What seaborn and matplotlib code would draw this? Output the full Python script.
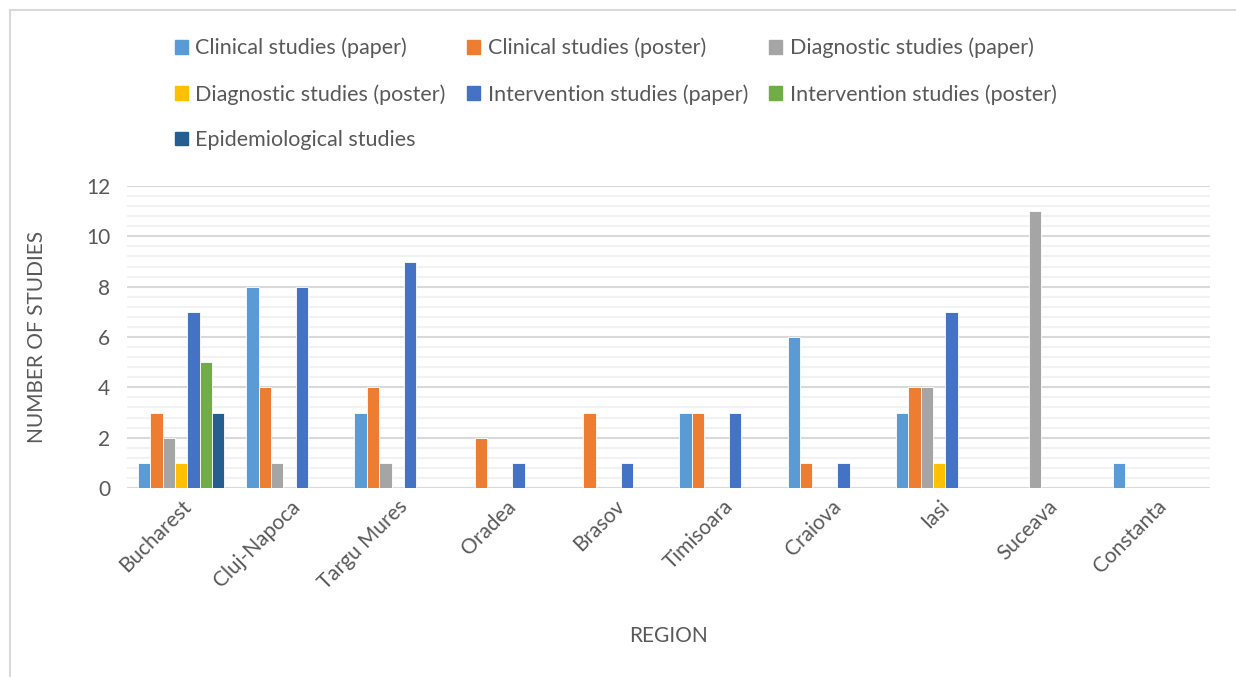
import pandas as pd
import numpy as np
import matplotlib.pyplot as plt
import matplotlib.patches as mpatches
from matplotlib.ticker import MultipleLocator
import seaborn as sns

regions = ['Bucharest', 'Cluj-Napoca', 'Targu Mures', 'Oradea', 'Brasov',
           'Timisoara', 'Craiova', 'Iasi', 'Suceava', 'Constanta']
series = ['Clinical studies (paper)', 'Clinical studies (poster)',
          'Diagnostic studies (paper)', 'Diagnostic studies (poster)',
          'Intervention studies (paper)', 'Intervention studies (poster)',
          'Epidemiological studies']

clinical_paper = [1, 8, 3, 0, 0, 3, 6, 3, 0, 1]
clinical_poster = [3, 4, 4, 2, 3, 3, 1, 4, 0, 0]
diagnostic_paper = [2, 1, 1, 0, 0, 0, 0, 4, 11, 0]
diagnostic_poster = [1, 0, 0, 0, 0, 0, 0, 1, 0, 0]
intervention_paper = [7, 8, 9, 1, 1, 3, 1, 7, 0, 0]
intervention_poster = [5, 0, 0, 0, 0, 0, 0, 0, 0, 0]
epidemiological = [3, 0, 0, 0, 0, 0, 0, 0, 0, 0]

colors = ['#5B9BD5', '#ED7D31', '#A5A5A5', '#FFC000', '#4472C4', '#70AD47', '#255E91']

values = [clinical_paper, clinical_poster, diagnostic_paper, diagnostic_poster,
          intervention_paper, intervention_poster, epidemiological]
rows = []
for s, vals in zip(series, values):
    for r, v in zip(regions, vals):
        rows.append({'region': r, 'series': s, 'count': v})
df = pd.DataFrame(rows)

sns.set_style('white')
plt.rcParams['font.family'] = ['Lato', 'DejaVu Sans']
text_color = '#595959'

fig = plt.figure(figsize=(12.36, 6.77), dpi=100)
ax = fig.add_axes([127 / 1236, 1 - 488 / 677, (1210 - 127) / 1236, (488 - 186) / 677])

sns.barplot(data=df, x='region', y='count', hue='series', hue_order=series,
            order=regions, palette=colors, saturation=1, width=0.8, ax=ax,
            edgecolor='white', linewidth=0.6, legend=False)

ax.set_ylim(0, 12)
ax.set_xlim(-0.5, len(regions) - 0.5)
ax.yaxis.set_major_locator(MultipleLocator(2))
ax.yaxis.set_minor_locator(MultipleLocator(0.4))
ax.grid(which='major', axis='y', color='#D9D9D9', linewidth=1.5)
ax.grid(which='minor', axis='y', color='#F2F2F2', linewidth=1.5)
ax.set_axisbelow(True)
for side in ['left', 'right', 'top', 'bottom']:
    ax.spines[side].set_visible(False)
ax.tick_params(axis='both', which='both', length=0, colors=text_color, labelsize=15)
ax.tick_params(axis='y', pad=12)
ax.tick_params(axis='x', pad=6)
plt.setp(ax.get_xticklabels(), rotation=45, ha='right', rotation_mode='anchor')

ax.set_xlabel('REGION', color=text_color, fontsize=15, labelpad=24)
ax.set_ylabel('NUMBER OF STUDIES', color=text_color, fontsize=15, labelpad=28)

# legend filled row by row like the original (matplotlib fills by column)
handles = [mpatches.Patch(color=c, label=s) for c, s in zip(colors, series)]
ordered = [handles[i] for i in [0, 3, 6, 1, 4, 2, 5]]
fig.legend(handles=ordered, loc='upper left', bbox_to_anchor=(164 / 1236, 1 - 27 / 677),
           ncol=3, frameon=False, fontsize=15.5, handlelength=0.6, handleheight=0.6,
           handletextpad=0.35, columnspacing=1.0, labelspacing=1.19, borderpad=0,
           labelcolor=text_color)

fig.patches.append(mpatches.Rectangle((10 / 1236, -0.1), 1.2, 1 - 10 / 677 + 0.1,
                                      transform=fig.transFigure, fill=False,
                                      edgecolor='#D9D9D9', linewidth=1.5))

fig.savefig('out.png', dpi=100)
